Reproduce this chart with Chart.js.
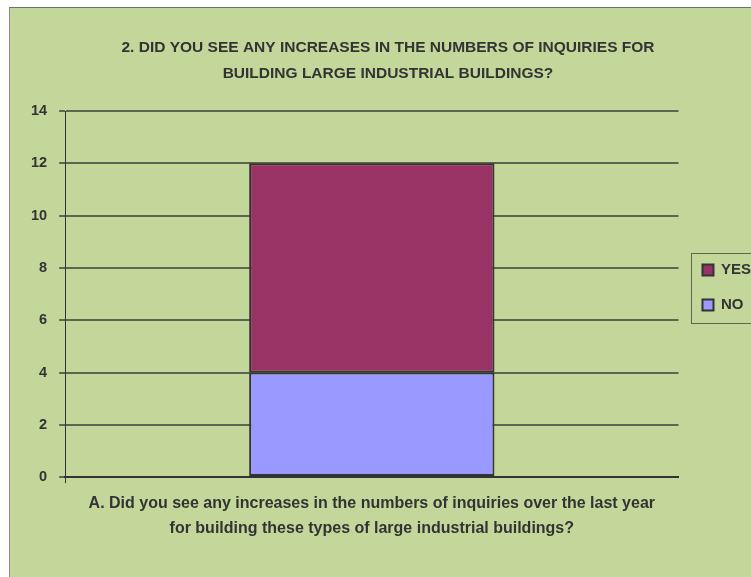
<!DOCTYPE html>
<html>
<head>
<meta charset="utf-8">
<script src="https://cdn.jsdelivr.net/npm/chart.js@4"></script>
<style>
  body { margin: 0; background: #fff; overflow: hidden; }
  #wrap {
    position: absolute; left: 9px; top: 7px;
    width: 750px; height: 580px;
    background: #c4d79b;
    border-left: 1px solid #8c8c8c; border-top: 1px solid #6e6e6e;
  }
</style>
</head>
<body>
<div id="wrap"><canvas id="myChart"></canvas></div>
<script>
const categories = [['A. Did you see any increases in the numbers of inquiries over the last year', 'for building these types of large industrial buildings?']];
const noValues = [4];
const yesValues = [8];
const yTicks = [0, 2, 4, 6, 8, 10, 12, 14];

const FONT = '"Liberation Sans", Arial, sans-serif';
const TXT = '#333333';

// box around the legend items, like the excel one
const legendBox = {
  id: 'legendBox',
  afterLayout(chart) {
    // nudge legend a bit lower / right
    const l = chart.legend;
    l.top += 3; l.bottom += 3;
    l.left += 4; l.right += 4;
  },
  afterDraw(chart) {
    const hb = chart.legend.legendHitBoxes;
    if (!hb || !hb.length) return;
    const top = Math.min(...hb.map(h => h.top)) - 10;
    const bottom = Math.max(...hb.map(h => h.top + h.height)) + 10;
    const left = Math.min(...hb.map(h => h.left)) - 11;
    const c = chart.ctx;
    c.save();
    c.strokeStyle = '#5f6652';
    c.lineWidth = 1;
    c.strokeRect(Math.round(left) + 0.5, Math.round(top) + 0.5, 200, Math.round(bottom - top));
    c.restore();
  }
};

const ctx = document.getElementById('myChart').getContext('2d');
ctx.canvas.parentNode.style.width = '750px';
const myChart = new Chart(ctx, {
  type: 'bar',
  data: {
    labels: categories,
    datasets: [
      {
        label: 'NO',
        data: noValues,
        backgroundColor: '#9999ff',
        borderColor: '#333333',
        borderWidth: 2,
        borderSkipped: false,
        barPercentage: 0.4,
        categoryPercentage: 1
      },
      {
        label: 'YES',
        data: yesValues,
        backgroundColor: '#993366',
        borderColor: '#333333',
        borderWidth: 2,
        borderSkipped: false,
        barPercentage: 0.4,
        categoryPercentage: 1
      }
    ]
  },
  options: {
    responsive: true,
    maintainAspectRatio: false,
    animation: false,
    layout: { padding: { top: 12, left: 9, right: 3, bottom: 39 } },
    scales: {
      x: {
        stacked: true,
        grid: {
          drawOnChartArea: false,
          color: c => (c.index === 0 ? '#333333' : 'rgba(0,0,0,0)'),
          tickLength: 6,
          lineWidth: 1
        },
        border: { color: '#333333', width: 2 },
        ticks: {
          color: TXT,
          padding: 8,
          font: { family: FONT, size: 16, weight: 'bold', lineHeight: 1.56 }
        }
      },
      y: {
        stacked: true,
        min: 0,
        max: 14,
        afterBuildTicks: axis => { axis.ticks = yTicks.map(v => ({ value: v })); },
        grid: { color: '#5d6650', lineWidth: 2, tickLength: 6 },
        border: { color: '#333333', width: 1 },
        ticks: {
          color: TXT,
          padding: 12,
          font: { family: FONT, size: 14.5, weight: 'bold' }
        }
      }
    },
    plugins: {
      title: {
        display: true,
        text: ['2. DID YOU SEE ANY INCREASES IN THE NUMBERS OF INQUIRIES FOR', 'BUILDING LARGE INDUSTRIAL BUILDINGS?'],
        color: TXT,
        font: { family: FONT, size: 15.5, weight: 'bold', lineHeight: 1.68 },
        padding: { top: 15, bottom: 24 }
      },
      legend: {
        position: 'right',
        reverse: true,
        labels: {
          color: TXT,
          boxWidth: 11,
          boxHeight: 11,
          padding: 20,
          font: { family: FONT, size: 15, weight: 'bold' }
        }
      },
      tooltip: { enabled: false }
    }
  },
  plugins: [legendBox]
});
</script>
</body>
</html>
